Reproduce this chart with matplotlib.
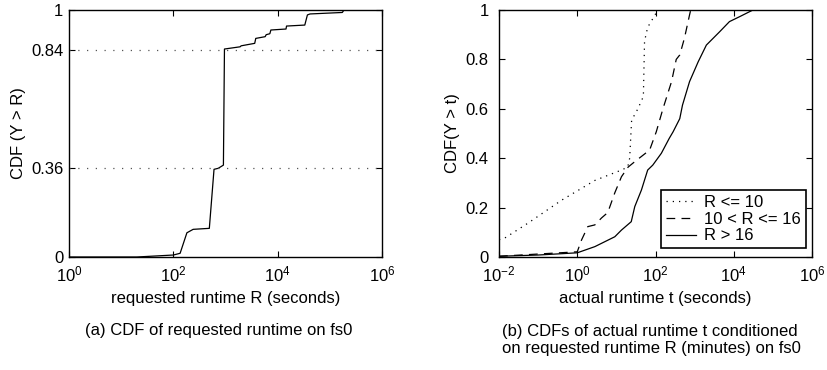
import numpy as np
import matplotlib
matplotlib.use('Agg')
import matplotlib.pyplot as plt
from matplotlib.ticker import NullLocator

plt.rcParams['font.family'] = ['Liberation Sans', 'DejaVu Sans']
plt.rcParams['mathtext.fontset'] = 'custom'
plt.rcParams['mathtext.rm'] = 'Liberation Sans'
plt.rcParams['mathtext.it'] = 'Liberation Sans:italic'

FS = 12

# (a) requested runtime, log10 seconds vs CDF
req_logx = [0, 1.3, 2.0, 2.13, 2.26, 2.38, 2.69, 2.78, 2.86, 2.96, 2.98, 3.28, 3.30,
            3.56, 3.58, 3.76, 3.78, 3.85, 3.87, 4.16, 4.17, 4.52, 4.57, 4.62, 5.24, 5.27, 6]
req_cdf = [0, 0.0, 0.008, 0.015, 0.098, 0.112, 0.116, 0.355, 0.359, 0.372, 0.842, 0.851, 0.855,
           0.865, 0.885, 0.892, 0.90, 0.904, 0.919, 0.923, 0.935, 0.939, 0.98, 0.984, 0.99, 1.0, 1.0]
ref_levels = [0.36, 0.84]

# (b) actual runtime conditioned on requested runtime R (minutes)
le10_logx = [-2, -1.85, -1.26, -0.4, 0.45, 1.13, 1.29, 1.34, 1.37, 1.39, 1.55, 1.69,
             1.72, 1.80, 1.95, 2.06, 6]
le10_cdf = [0.07, 0.077, 0.137, 0.23, 0.31, 0.352, 0.364, 0.40, 0.494, 0.554, 0.60, 0.65,
            0.874, 0.93, 0.97, 1.0, 1.0]

mid_logx = [-2, -1, 0, 0.11, 0.27, 0.45, 0.62, 0.78, 0.96, 1.13, 1.30, 1.47, 1.85,
            2.02, 2.19, 2.41, 2.53, 2.62, 2.74, 2.87, 2.9, 6]
mid_cdf = [0.003, 0.012, 0.021, 0.069, 0.123, 0.13, 0.158, 0.18, 0.26, 0.325, 0.364, 0.386,
           0.433, 0.507, 0.60, 0.71, 0.80, 0.818, 0.886, 0.98, 1.0, 1.0]

gt16_logx = [-2, -1, 0, 0.45, 0.96, 1.13, 1.38, 1.47, 1.64, 1.80, 1.93, 2.15, 2.35, 2.45,
             2.62, 2.69, 2.87, 3.09, 3.30, 3.64, 3.89, 4.15, 4.49, 6]
gt16_cdf = [0.003, 0.008, 0.017, 0.042, 0.082, 0.109, 0.143, 0.204, 0.271, 0.352, 0.372,
            0.42, 0.48, 0.507, 0.56, 0.615, 0.71, 0.79, 0.858, 0.912, 0.953, 0.973, 1.0, 1.0]

fig = plt.figure(figsize=(8.27, 3.70), dpi=100)
ax1 = fig.add_axes([69 / 827, 113 / 370, 313 / 827, 247 / 370])
ax2 = fig.add_axes([499 / 827, 113 / 370, 313 / 827, 247 / 370])


def style_axis(ax, ypad):
    ax.set_xscale('log')
    ax.xaxis.set_minor_locator(NullLocator())
    ax.tick_params(which='both', direction='in', top=True, right=True,
                   labelsize=FS, width=0.8, length=4)
    ax.tick_params(axis='x', pad=5.5)
    ax.tick_params(axis='y', pad=ypad)
    for s in ax.spines.values():
        s.set_linewidth(1.0)


ax1.plot(10 ** np.array(req_logx), req_cdf, color='black', lw=0.9)
for lev in ref_levels:
    ax1.axhline(lev, color='#555555', lw=0.9, ls=(0, (1, 6)))
style_axis(ax1, 4)
ax1.set_xlim(1, 1e6)
ax1.set_ylim(0, 1)
ax1.set_xticks([1, 1e2, 1e4, 1e6])
ax1.set_xticklabels(['$10^0$', '$10^2$', '$10^4$', '$10^6$'])
ax1.set_yticks([0, 0.36, 0.84, 1])
ax1.set_yticklabels(['0', '0.36', '0.84', '1'])
ax1.set_xlabel('requested runtime R (seconds)', fontsize=FS, labelpad=5)
ax1.set_ylabel('CDF (Y > R)', fontsize=FS, labelpad=4)

ax2.plot(10 ** np.array(le10_logx), le10_cdf, color='black', lw=0.9, ls=(0, (1, 4)),
         label='R <= 10')
ax2.plot(10 ** np.array(mid_logx), mid_cdf, color='black', lw=0.9, ls=(0, (7, 5)),
         label='10 < R <= 16')
ax2.plot(10 ** np.array(gt16_logx), gt16_cdf, color='black', lw=0.9, label='R > 16')
style_axis(ax2, 7.5)
ax2.set_xlim(1e-2, 1e6)
ax2.set_ylim(0, 1)
ax2.set_xticks([1e-2, 1, 1e2, 1e4, 1e6])
ax2.set_xticklabels(['$10^{-2}$', '$10^0$', '$10^2$', '$10^4$', '$10^6$'])
ax2.set_yticks([0, 0.2, 0.4, 0.6, 0.8, 1])
ax2.set_yticklabels(['0', '0.2', '0.4', '0.6', '0.8', '1'])
ax2.set_xlabel('actual runtime t (seconds)', fontsize=FS, labelpad=5)
ax2.set_ylabel('CDF(Y > t)', fontsize=FS, labelpad=4)
leg = ax2.legend(loc='lower right', bbox_to_anchor=(0.98, 0.035), fontsize=FS,
                 fancybox=False, framealpha=1, edgecolor='black', handlelength=1.8,
                 handletextpad=0.5, borderpad=0.3, labelspacing=0.1, borderaxespad=0)
leg.get_frame().set_linewidth(1.2)

fig.text(219 / 827, 1 - 330 / 370, '(a) CDF of requested runtime on fs0',
         ha='center', va='center', fontsize=FS)
fig.text(502 / 827, 1 - 340 / 370,
         '(b) CDFs of actual runtime t conditioned\non requested runtime R (minutes) on fs0',
         ha='left', va='center', fontsize=FS, linespacing=1.2)

fig.savefig('out.png', dpi=100)
